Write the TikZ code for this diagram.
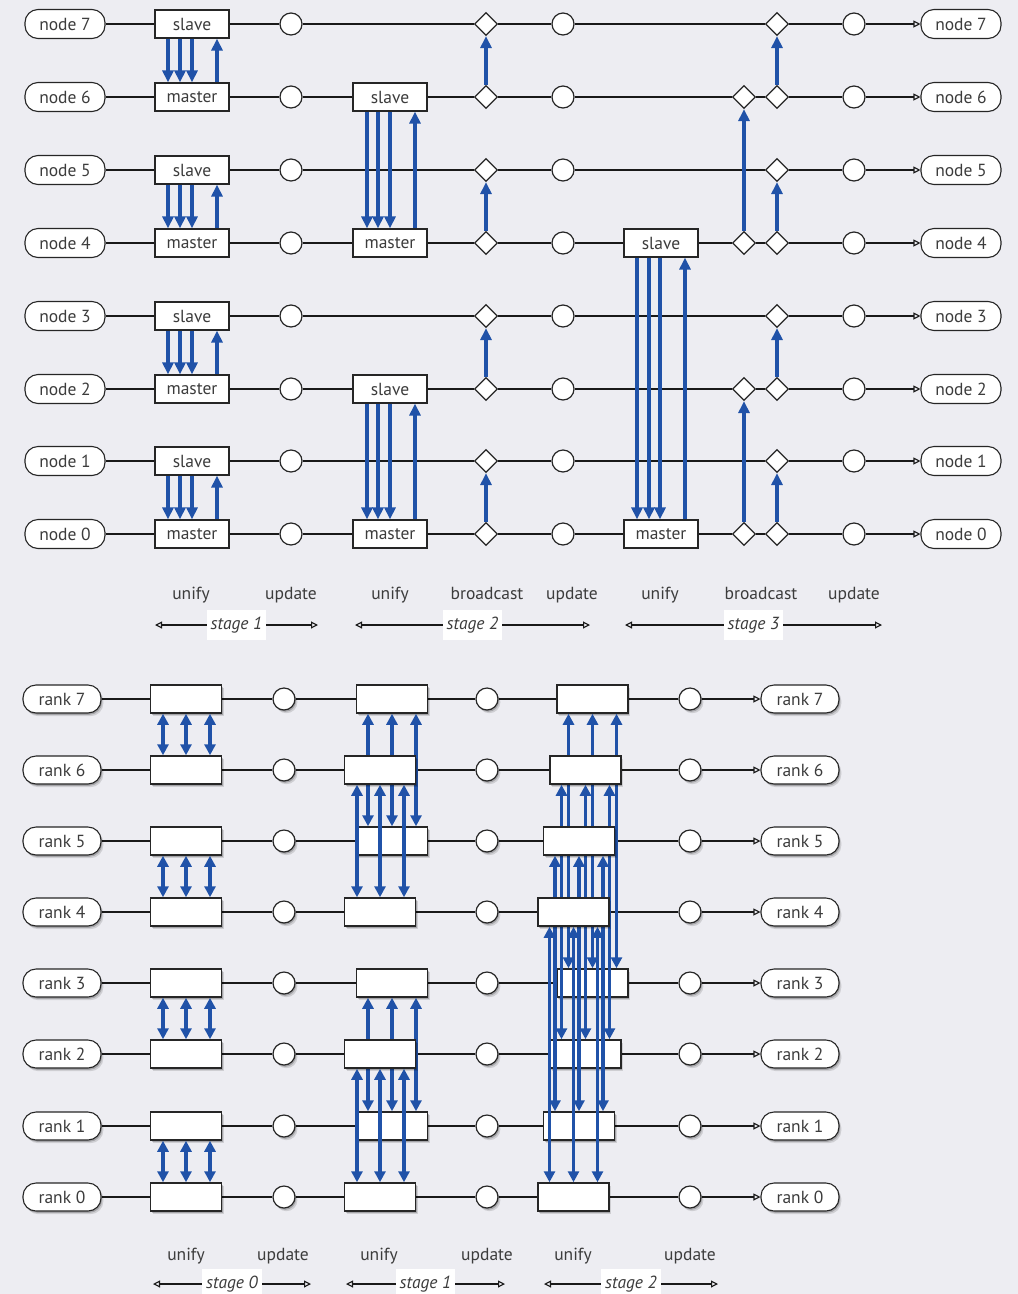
\documentclass[tikz,border=0pt]{standalone}
\usepackage{fontspec}
\setmainfont{PT Sans}
\usetikzlibrary{arrows.meta,shapes.geometric,shadows}
\pgfdeclarelayer{bgl}
\pgfdeclarelayer{lin}
\pgfsetlayers{bgl,lin,main}
\definecolor{bgc}{RGB}{237,237,242}
\definecolor{arrb}{RGB}{32,82,168}
\definecolor{txc}{RGB}{60,60,60}
\newcommand\myfs{\fontsize{17.5}{20}\selectfont}
\tikzset{
  myshadow/.style={drop shadow={shadow xshift=2.4pt,shadow yshift=-3.2pt,opacity=0.13,fill=black},
                   drop shadow={shadow xshift=1.2pt,shadow yshift=-1.8pt,opacity=0.2,fill=black}},
  lab/.style={draw=black!85,line width=1.1pt,fill=white,rounded corners=13pt,minimum width=80pt,minimum height=29pt,inner sep=0pt,font=\myfs,text=txc},
  blab/.style={lab,minimum width=78pt,minimum height=28pt,myshadow},
  tbox/.style={draw=black!85,line width=1.2pt,fill=white,minimum width=74pt,minimum height=28pt,inner sep=0pt,font=\myfs,text=txc},
  bbox/.style={draw=black!85,line width=1.5pt,fill=white,minimum width=71pt,minimum height=28pt,inner sep=0pt,myshadow},
  circ/.style={circle,draw=black!85,line width=1.2pt,fill=white,minimum size=22pt,inner sep=0pt},
  bcirc/.style={circ,myshadow},
  dia/.style={diamond,draw=black!85,line width=1.2pt,fill=white,minimum width=23pt,minimum height=23pt,inner sep=0pt},
  rowline/.style={line width=1.1pt,draw=black!90,-{Triangle[open,length=7pt,width=7pt]}},
  upar/.style={line width=3.4pt,draw=arrb,-{Triangle[length=12pt,width=11pt]}},
  dbl/.style={line width=3.4pt,draw=arrb,{Triangle[length=11pt,width=11pt]}-{Triangle[length=11pt,width=11pt]}},
  stg/.style={line width=1.1pt,draw=black!90,{Triangle[open,length=7pt,width=7pt]}-{Triangle[open,length=7pt,width=7pt]}},
  stl/.style={fill=white,font=\myfs\itshape,text=txc,inner xsep=4pt,inner ysep=7pt},
  txt/.style={font=\myfs,text=txc,inner sep=0pt,anchor=base}
}
\begin{document}
\begin{tikzpicture}[x=1pt,y=-1pt]
\begin{pgfonlayer}{bgl}
\fill[bgc] (0,0) rectangle (1018,1294);
\end{pgfonlayer}
\useasboundingbox (0,0) rectangle (1018,1294);

% ================= TOP DIAGRAM =================
\foreach \r/\yy in {7/24,6/97,5/170,4/243,3/316,2/389,1/461,0/534}{
  \node[lab] (tl\r) at (65,\yy) {node \r};
  \node[lab] (tr\r) at (961,\yy) {node \r};
  \node[circ] (cu\r) at (291,\yy) {};
  \node[dia] (dd\r) at (486,\yy) {};
  \node[circ] (cv\r) at (563,\yy) {};
  \node[dia] (df\r) at (777,\yy) {};
  \node[circ] (cw\r) at (854,\yy) {};
}
\foreach \r/\yy in {7/24,5/170,3/316,1/461}{
  \node[tbox] (ta\r) at (192,\yy) {slave};
}
\foreach \r/\yy in {6/97,4/243,2/389,0/534}{
  \node[tbox] (ta\r) at (192,\yy) {master};
  \node[dia] (de\r) at (744,\yy) {};
}
\node[tbox] (tb6) at (390,97) {slave};
\node[tbox] (tb4) at (390,243) {master};
\node[tbox] (tb2) at (390,389) {slave};
\node[tbox] (tb0) at (390,534) {master};
\node[tbox] (tc4) at (661,243) {slave};
\node[tbox] (tc0) at (661,534) {master};

\begin{pgfonlayer}{lin}
\foreach \r in {7,5,3,1}{
  \draw[rowline] (tl\r) -- (ta\r) -- (cu\r) -- (dd\r) -- (cv\r) -- (df\r) -- (cw\r) -- (tr\r);
}
\foreach \r in {6,2}{
  \draw[rowline] (tl\r) -- (ta\r) -- (cu\r) -- (tb\r) -- (dd\r) -- (cv\r) -- (de\r) -- (df\r) -- (cw\r) -- (tr\r);
}
\foreach \r in {4,0}{
  \draw[rowline] (tl\r) -- (ta\r) -- (cu\r) -- (tb\r) -- (dd\r) -- (cv\r) -- (tc\r) -- (de\r) -- (df\r) -- (cw\r) -- (tr\r);
}
\end{pgfonlayer}

% unify arrows, stage 1
\foreach \u/\l in {7/6,5/4,3/2,1/0}{
  \foreach \d in {-24,-12,0}{
    \draw[upar] ([xshift=\d pt]ta\u.south) -- ([xshift=\d pt]ta\l.north);
  }
  \draw[upar] ([xshift=25pt]ta\l.north) -- ([xshift=25pt]ta\u.south);
}
% unify arrows, stage 2
\foreach \u/\l in {6/4,2/0}{
  \foreach \d in {-23,-12,0}{
    \draw[upar] ([xshift=\d pt]tb\u.south) -- ([xshift=\d pt]tb\l.north);
  }
  \draw[upar] ([xshift=25pt]tb\l.north) -- ([xshift=25pt]tb\u.south);
}
% unify arrows, stage 3
\foreach \d in {-24,-12,-1}{
  \draw[upar] ([xshift=\d pt]tc4.south) -- ([xshift=\d pt]tc0.north);
}
\draw[upar] ([xshift=24pt]tc0.north) -- ([xshift=24pt]tc4.south);
% broadcast arrows
\foreach \l/\u in {0/1,2/3,4/5,6/7}{
  \draw[upar] (dd\l.north) -- (dd\u.south);
  \draw[upar] (df\l.north) -- (df\u.south);
}
\draw[upar] (de4.north) -- (de6.south);
\draw[upar] (de0.north) -- (de2.south);

% top captions
\node[txt] (k1) at (191,599) {unify};
\node[txt] (k2) at (291,599) {update};
\node[txt] (k3) at (390,599) {unify};
\node[txt] (k4) at (487,599) {broadcast};
\node[txt] (k5) at (572,599) {update};
\node[txt] (k6) at (660,599) {unify};
\node[txt] (k7) at (761,599) {broadcast};
\node[txt] (k8) at (854,599) {update};

\coordinate (sa1) at (155,625); \coordinate (sb1) at (318,625);
\coordinate (sa2) at (355,625); \coordinate (sb2) at (590,625);
\coordinate (sa3) at (625,625); \coordinate (sb3) at (882,625);
\draw[stg] (sa1) -- (sb1) node[midway,stl] (st1) {stage 1};
\draw[stg] (sa2) -- (sb2) node[midway,stl] (st2) {stage 2};
\draw[stg] (sa3) -- (sb3) node[midway,stl] (st3) {stage 3};

% ================= BOTTOM DIAGRAM =================
\foreach \r/\yy in {7/699,6/770,5/841,4/912,3/983,2/1054,1/1126,0/1197}{
  \node[blab] (bl\r) at (62,\yy) {rank \r};
  \node[blab] (br\r) at (800,\yy) {rank \r};
  \node[bcirc] (bu\r) at (284,\yy) {};
  \node[bcirc] (bv\r) at (487,\yy) {};
  \node[bcirc] (bw\r) at (690,\yy) {};
  \node[bbox] (ba\r) at (186,\yy) {};
}
% stage 0 arrows
\foreach \u/\l in {7/6,5/4,3/2,1/0}{
  \foreach \d in {-23,0,24}{
    \draw[dbl] ([xshift=\d pt]ba\l.north) -- ([xshift=\d pt]ba\u.south);
  }
}
% stage 1
\foreach \r/\yy in {7/699,5/841,3/983,1/1126}{
  \node[bbox] (bb\r) at (392,\yy) {};
}
\foreach \u/\l in {7/5,3/1}{
  \foreach \d in {-24,0,24}{
    \draw[dbl] ([xshift=\d pt]bb\l.north) -- ([xshift=\d pt]bb\u.south);
  }
}
\foreach \r/\yy in {6/770,4/912,2/1054,0/1197}{
  \node[bbox] (bb\r) at (380,\yy) {};
}
\foreach \u/\l in {6/4,2/0}{
  \foreach \d in {-23,0,24}{
    \draw[dbl] ([xshift=\d pt]bb\l.north) -- ([xshift=\d pt]bb\u.south);
  }
}
% stage 2
\node[bbox] (bc7) at (592.5,699) {};
\node[bbox] (bc3) at (592.5,983) {};
\foreach \d in {-24,0,24}{
  \draw[dbl] ([xshift=\d pt]bc3.north) -- ([xshift=\d pt]bc7.south);
}
\node[bbox] (bc6) at (585.5,770) {};
\node[bbox] (bc2) at (585.5,1054) {};
\foreach \d in {-24,0,24}{
  \draw[dbl] ([xshift=\d pt]bc2.north) -- ([xshift=\d pt]bc6.south);
}
\node[bbox] (bc5) at (579,841) {};
\node[bbox] (bc1) at (579,1126) {};
\foreach \d in {-24,0,24}{
  \draw[dbl] ([xshift=\d pt]bc1.north) -- ([xshift=\d pt]bc5.south);
}
\node[bbox] (bc4) at (573.5,912) {};
\node[bbox] (bc0) at (573.5,1197) {};
\foreach \d in {-24,0,24}{
  \draw[dbl] ([xshift=\d pt]bc0.north) -- ([xshift=\d pt]bc4.south);
}

\begin{pgfonlayer}{lin}
\foreach \r in {0,...,7}{
  \draw[rowline] (bl\r) -- (ba\r) -- (bu\r) -- (bb\r) -- (bv\r) -- (bc\r) -- (bw\r) -- (br\r);
}
\end{pgfonlayer}

% bottom captions
\node[txt] (m1) at (186,1260) {unify};
\node[txt] (m2) at (283,1260) {update};
\node[txt] (m3) at (379,1260) {unify};
\node[txt] (m4) at (487,1260) {update};
\node[txt] (m5) at (573,1260) {unify};
\node[txt] (m6) at (690,1260) {update};

\coordinate (ta) at (153,1284); \coordinate (tb) at (311,1284);
\coordinate (tc) at (346,1284); \coordinate (td) at (505,1284);
\coordinate (te) at (544,1284); \coordinate (tf) at (718,1284);
\draw[stg] (ta) -- (tb) node[midway,stl] (su0) {stage 0};
\draw[stg] (tc) -- (td) node[midway,stl] (su1) {stage 1};
\draw[stg] (te) -- (tf) node[midway,stl] (su2) {stage 2};
\end{tikzpicture}
\end{document}
